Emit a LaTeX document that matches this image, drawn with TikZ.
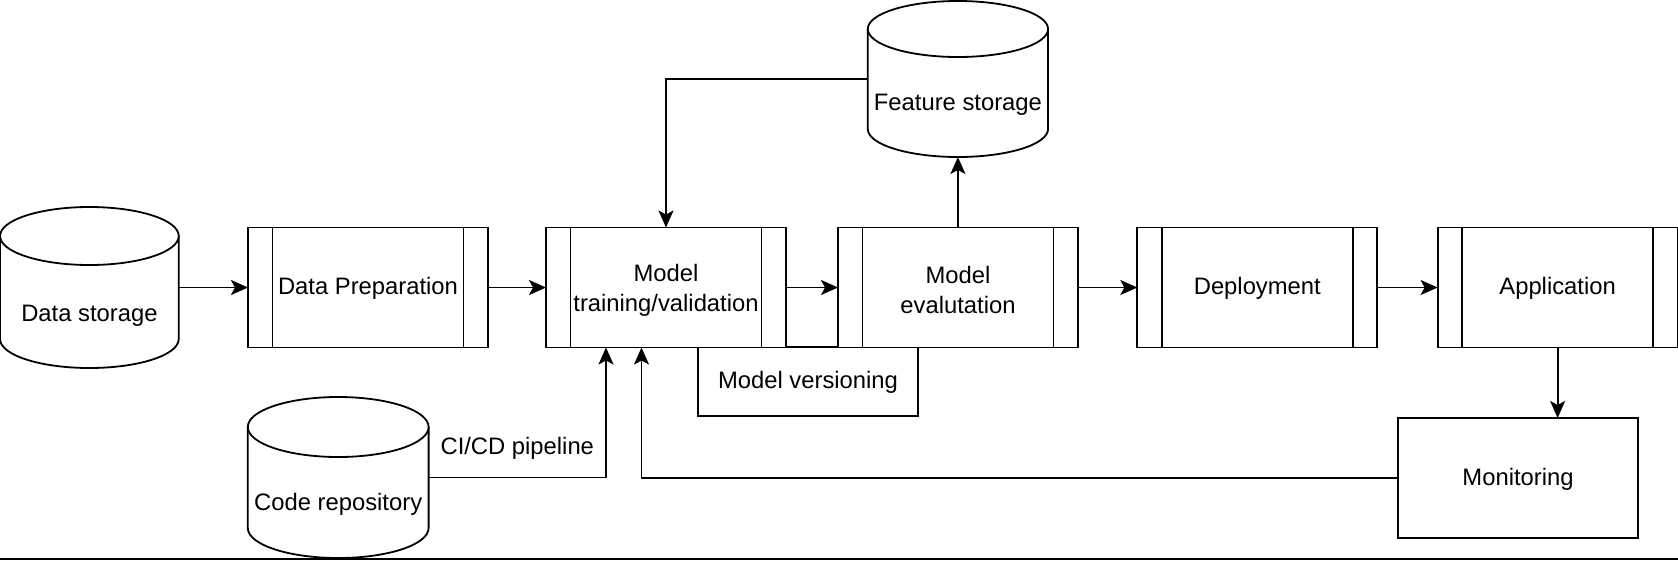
\documentclass[tikz,border=0pt]{standalone}
\usepackage{fontspec}
\setmainfont{Liberation Sans}
\usetikzlibrary{arrows.meta}
\newcommand\dgfont{\fontsize{23.8pt}{30pt}\selectfont}
\tikzset{
  lw/.style={line width=1.8pt},
  procbox/.style={draw, lw, fill=white, minimum width=240pt, minimum height=120pt,
    inner sep=0pt, outer sep=0pt, align=center, font=\dgfont},
  plainbox/.style={draw, lw, fill=white, inner sep=0pt, outer sep=0pt, align=center, font=\dgfont},
  oneline/.style={text height=17pt, text depth=2.5pt},
  cylbox/.style={inner sep=0pt, outer sep=0pt},
  cyltext/.style={inner sep=0pt, font=\dgfont, text height=17pt, text depth=0pt},
  arr/.style={lw, -{Stealth[length=17pt,width=15pt,inset=4pt]}},
}
% #1 name, #2 cx, #3 cy, #4 w, #5 h, #6 ry, #7 text offset down, #8 text
\newcommand\drawcyl[8]{%
  \node[cylbox, minimum width=#4pt, minimum height=#5pt] (#1) at (#2,#3) {};
  \draw[lw, fill=white] ([yshift=-#6pt]#1.north west) -- ([yshift=#6pt]#1.south west)
     arc[start angle=180, end angle=360, x radius=#4pt/2, y radius=#6pt]
     -- ([yshift=-#6pt]#1.north east);
  \draw[lw, fill=white] ([yshift=-#6pt]#1.north) ellipse [x radius=#4pt/2, y radius=#6pt];
  \node[cyltext] (#1-t) at ([yshift=-#7pt]#1.center) {#8};
}
\begin{document}
\begin{tikzpicture}[x=1pt,y=-1pt]
\useasboundingbox (0,0) rectangle (1678,560);

% cylinders
\drawcyl{ds}{89.4}{287.5}{178.7}{161}{29}{25.5}{Data storage}
\drawcyl{fs}{957.9}{79}{180.3}{156}{28}{23}{Feature storage}
\drawcyl{cr}{338.2}{477.5}{180.8}{161}{30}{24.5}{Code repository}

% model versioning (behind)
\node[plainbox, oneline, minimum width=220pt, minimum height=69pt] (mv) at (808,381.5) {Model versioning};

% process boxes
\node[procbox, oneline] (dp)  at (368,287.5)    {Data Preparation};
\node[procbox] (mt)  at (666,287.5)    {\rule{0pt}{22pt}Model\\training/validation};
\node[procbox] (me)  at (958,287.5)    {\rule{0pt}{22pt}Model\\evalutation};
\node[procbox, oneline] (dep) at (1257.3,287.5) {Deployment};
\node[procbox, oneline] (app) at (1557.6,287.5) {Application};
\foreach \n in {dp,mt,me,dep,app}{
  \draw[lw] ([xshift=24.5pt]\n.north west) -- ([xshift=24.5pt]\n.south west)
            ([xshift=-24.5pt]\n.north east) -- ([xshift=-24.5pt]\n.south east);
}

% monitoring
\node[plainbox, oneline, minimum width=240pt, minimum height=120pt] (mon) at (1518,478) {Monitoring};

% connectors
\draw[arr] (ds.east) -- (dp.west);
\draw[arr] (dp.east) -- (mt.west);
\draw[arr] (mt.east) -- (me.west);
\draw[arr] (me.east) -- (dep.west);
\draw[arr] (dep.east) -- (app.west);
\draw[arr] (me.north) -- (fs.south);
\draw[arr] (fs.west) -| (mt.north);
\draw[arr] (app.south) -- (app.south |- mon.north);
\draw[arr] (mon.west) -| ([xshift=-24.5pt]mt.south);
\draw[arr] (cr.east) -| node[pos=0.25, anchor=base, yshift=22.7pt, inner sep=0pt, font=\dgfont] (cilabel) {CI/CD pipeline} ([xshift=-60pt]mt.south);

% bottom edge line
\draw[line width=2pt] (0,559) -- (1678,559);
\end{tikzpicture}
\end{document}
